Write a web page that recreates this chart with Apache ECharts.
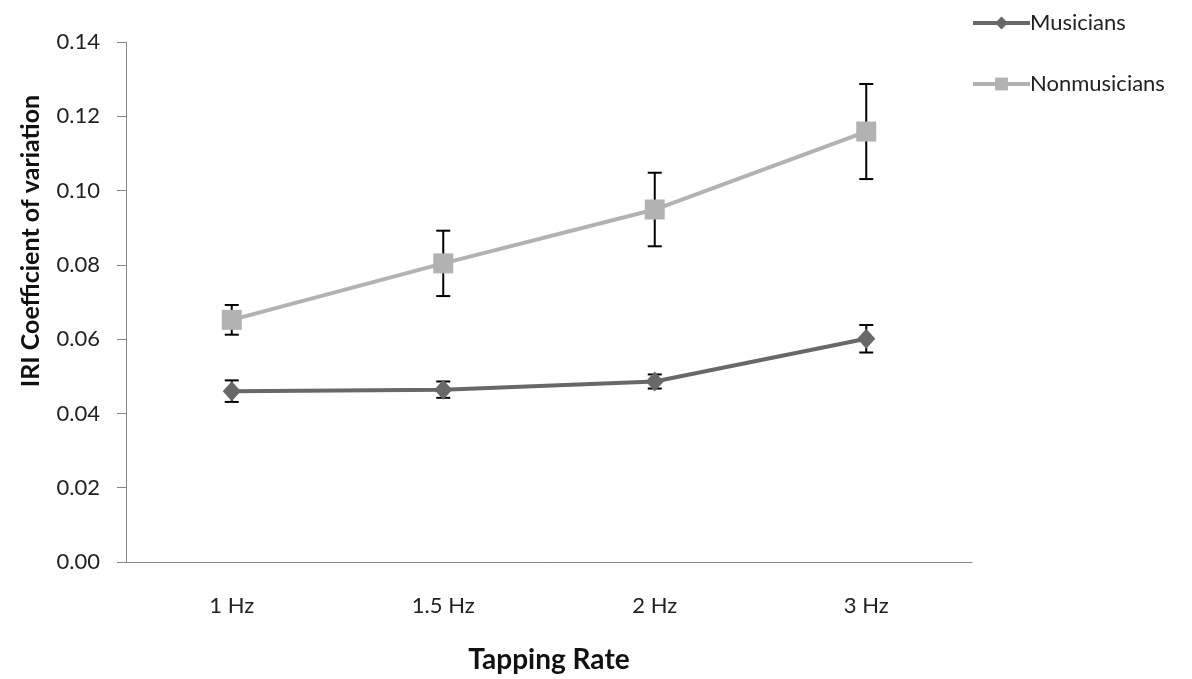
<!DOCTYPE html>
<html>
<head>
<meta charset="utf-8">
<script src="https://cdn.jsdelivr.net/npm/echarts@6/dist/echarts.min.js"></script>
<style>html,body{margin:0;padding:0;background:#fff;}#c{width:1192px;height:679px;}</style>
</head>
<body>
<div id="c"></div>
<script>
var categories = ['1 Hz', '1.5 Hz', '2 Hz', '3 Hz'];
var musicians = [0.0460, 0.0464, 0.0486, 0.0601];
var musiciansErr = [0.0029, 0.0022, 0.0019, 0.0037];
var nonmusicians = [0.0652, 0.0804, 0.0949, 0.1159];
var nonmusiciansErr = [0.0040, 0.0088, 0.0099, 0.0128];

var FONT = 'Lato';

function errData(vals, errs) {
  return vals.map(function (v, i) { return [i, v - errs[i], v + errs[i]]; });
}
function renderErr(params, api) {
  var x = api.value(0);
  var lo = api.coord([x, api.value(1)]);
  var hi = api.coord([x, api.value(2)]);
  var hw = 7;
  var style = { stroke: '#000', lineWidth: 2 };
  return {
    type: 'group',
    children: [
      { type: 'line', shape: { x1: hi[0], y1: hi[1], x2: lo[0], y2: lo[1] }, style: style },
      { type: 'line', shape: { x1: hi[0] - hw, y1: hi[1], x2: hi[0] + hw, y2: hi[1] }, style: style },
      { type: 'line', shape: { x1: lo[0] - hw, y1: lo[1], x2: lo[0] + hw, y2: lo[1] }, style: style }
    ]
  };
}

var chart = echarts.init(document.getElementById('c'));
chart.setOption({
  animation: false,
  backgroundColor: '#fff',
  grid: { left: 126, right: 220, top: 42, bottom: 117, containLabel: false },
  legend: {
    orient: 'vertical',
    left: 966,
    top: 7,
    itemWidth: 57,
    itemHeight: 16,
    itemGap: 39,
    data: ['Musicians', 'Nonmusicians'],
    lineStyle: { width: 4 },
    textStyle: { fontFamily: FONT, fontSize: 22, color: '#222', padding: [0, 0, 0, -5] }
  },
  xAxis: {
    type: 'category',
    data: categories,
    boundaryGap: true,
    axisLine: { lineStyle: { color: '#868686', width: 1 } },
    axisTick: { alignWithLabel: true, length: 6, lineStyle: { color: '#868686' } },
    axisLabel: { fontFamily: FONT, fontSize: 22, color: '#222', margin: 33 },
    name: 'Tapping Rate',
    nameLocation: 'middle',
    nameGap: 84,
    nameTextStyle: { fontFamily: FONT, fontSize: 28, fontWeight: 'bold', color: '#111' }
  },
  yAxis: {
    type: 'value',
    min: 0,
    max: 0.14,
    interval: 0.02,
    splitLine: { show: false },
    axisLine: { show: true, lineStyle: { color: '#868686', width: 1 } },
    axisTick: { show: true, length: 9, lineStyle: { color: '#868686' } },
    axisLabel: {
      fontFamily: FONT, fontSize: 22, color: '#222', margin: 26,
      formatter: function (v) { return v.toFixed(2); }
    }
  },
  graphic: [{
    type: 'text',
    x: 31,
    y: 241,
    rotation: Math.PI / 2,
    style: {
      text: 'IRI Coefficient of variation',
      fontFamily: FONT, fontSize: 25, fontWeight: 'bold', fill: '#111',
      align: 'center', verticalAlign: 'middle'
    }
  }],
  series: [
    {
      type: 'custom',
      name: 'errM',
      renderItem: renderErr,
      data: errData(musicians, musiciansErr),
      z: 1,
      silent: true
    },
    {
      type: 'custom',
      name: 'errN',
      renderItem: renderErr,
      data: errData(nonmusicians, nonmusiciansErr),
      z: 1,
      silent: true
    },
    {
      type: 'line',
      name: 'Musicians',
      data: musicians,
      symbol: 'diamond',
      symbolSize: [18, 20],
      lineStyle: { color: '#686868', width: 4 },
      itemStyle: { color: '#686868' },
      z: 3
    },
    {
      type: 'line',
      name: 'Nonmusicians',
      data: nonmusicians,
      symbol: 'rect',
      symbolSize: 20,
      lineStyle: { color: '#b2b2b2', width: 4 },
      itemStyle: { color: '#b2b2b2' },
      z: 3
    }
  ]
});
</script>
</body>
</html>
